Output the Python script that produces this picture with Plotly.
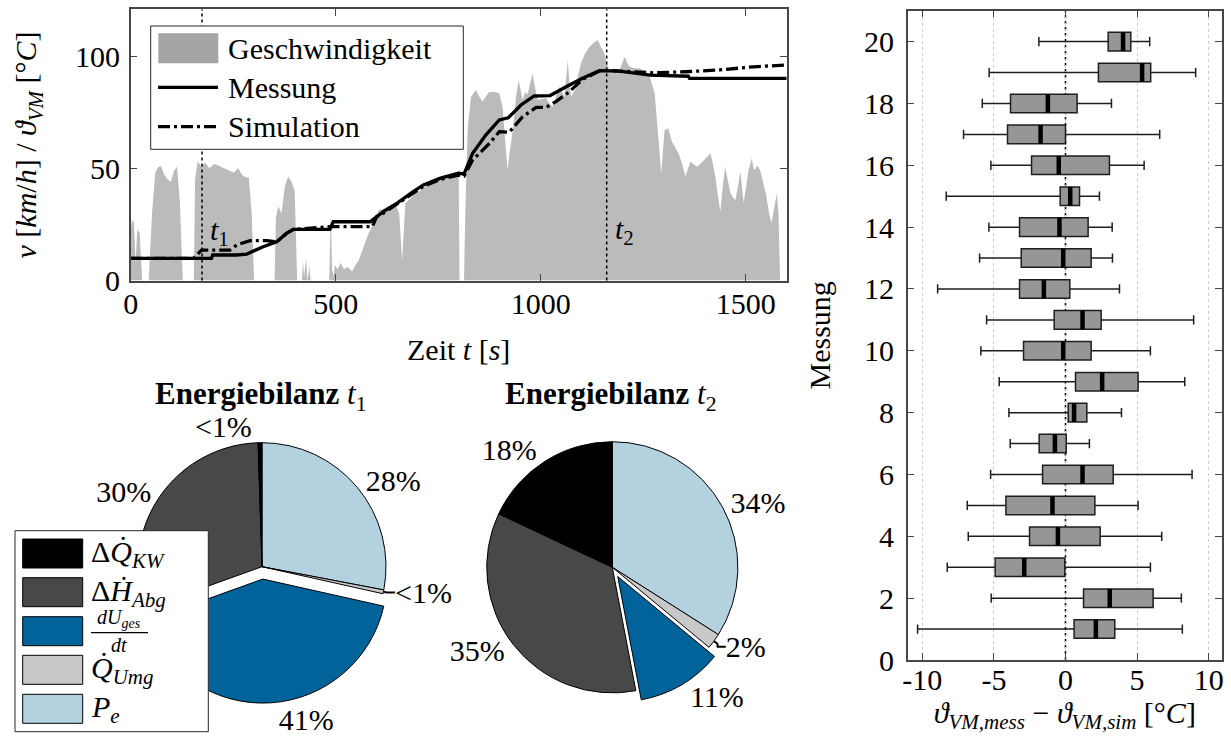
import plotly.graph_objects as go

W, H = 1231, 740
FONT = "Liberation Serif"

# ---------------- drive cycle: vehicle speed (gray area) ----------------
speed_t = [0, 3, 8, 12, 16, 22, 28, 44, 52, 60, 67, 74, 82, 90, 98, 106, 113, 120, 127,
           154, 157, 163, 172, 182, 192, 204, 216, 228, 240, 252, 262, 272, 280, 288, 295, 301,
           351, 354, 360, 368, 376, 384, 392, 400, 403, 406,
           418, 420, 423, 428, 431, 436, 439, 484, 488, 491, 495, 498,
           505, 512, 520, 530, 540, 548, 556, 568, 580, 593, 605, 617, 629, 645, 655, 662, 666, 670,
           682, 694, 706, 718, 740, 759, 775, 792, 800, 802, 813, 816, 822, 830, 842, 850, 858, 866,
           875, 887, 899, 907, 913, 919, 925, 932, 940, 946, 956, 962, 968, 974, 980, 986, 993,
           1003, 1013, 1021, 1029, 1037, 1045, 1052, 1058, 1062, 1066, 1070, 1074, 1080, 1086, 1092, 1098,
           1108, 1119, 1130, 1139, 1147, 1155, 1161, 1167, 1173, 1180, 1186, 1193, 1199, 1205, 1211, 1217,
           1229, 1241, 1254, 1266, 1278, 1286, 1294, 1302, 1311, 1320, 1328, 1336, 1345, 1353,
           1365, 1373, 1381, 1390, 1398, 1406, 1414, 1420, 1426, 1432, 1438, 1444, 1450, 1457, 1463, 1469,
           1475, 1481, 1487, 1495, 1501, 1507, 1515, 1519, 1523, 1527, 1531, 1537, 1543, 1550, 1557, 1563,
           1570, 1576, 1580, 1584, 1600]
speed_v = [22, 27, 26, 8, 23, 21, 0, 0, 30, 48, 50.5, 51, 47, 45, 44, 49, 50.7, 35, 0,
           0, 45, 53, 51, 52.5, 50, 52, 51, 50, 49, 48, 50, 47, 46, 46, 30, 0,
           0, 28, 33, 30, 42, 46.3, 44, 40, 20, 0,
           0, 9, 2, 10, 0, 6, 0, 0, 30, 5, 2, 7,
           5, 8, 5, 6, 4, 7, 9, 15, 21, 26, 31.4, 32, 33, 34.5, 30, 9, 22, 34.5,
           36.5, 38.9, 40, 41.8, 44, 46.3, 47, 47.2, 47, 0, 0, 30, 68, 81.9, 84.9, 82, 79.7, 82,
           84, 84, 83.4, 77.4, 62, 49.2, 58, 67, 82, 89.3, 80.4, 84, 83, 88, 92.3, 86, 80.4,
           81, 81.2, 79, 77.4, 82, 86.3, 84, 82, 90, 98.2, 88, 82, 84, 85.5, 92, 96.7,
           101, 104.1, 106, 107.1, 104, 101.2, 97, 93.8, 92, 94.5, 92, 93.8, 97, 99.7, 97, 95.2,
           94.5, 94.5, 93, 90.8, 83.4, 64, 47.8, 67, 67.8, 61.9, 59, 56.7, 52, 46.3,
           53, 52, 50.7, 52, 53.7, 55, 56.7, 52, 46.3, 38, 30.7, 42, 50.7, 44, 38.9, 37,
           35.9, 42, 48.5, 34.5, 42, 49.2, 54.5, 50, 49.2, 51, 50.7, 48, 43.3, 38, 30, 25.5,
           33, 38.9, 30, 0, 0]

# engine coolant temperature: measurement and simulation
mess_t = [0, 197, 200, 258, 283, 323, 356, 380, 397, 486, 494, 584, 616, 649, 689, 714, 754, 799, 813, 834,
          866, 899, 921, 952, 984, 1023, 1062, 1102, 1143, 1192, 1267, 1360, 1363, 1600]
mess_v = [9.9, 9.9, 11.4, 11.4, 11.8, 15.1, 17.3, 21, 22.8, 22.8, 26.2, 26.2, 30.7, 34.4, 39.6, 42.6, 45.5, 47.8, 47.5, 56.7,
          64.8, 71.5, 72.5, 78.2, 82.2, 82.4, 86.3, 90.1, 93.5, 93.3, 91.5, 91, 90, 90]
sim_t = [0, 153, 173, 242, 260, 291, 332, 356, 380, 397, 486, 589, 600, 616, 649, 689, 714, 754, 799, 813,
         834, 875, 899, 923, 956, 989, 1013, 1037, 1070, 1102, 1143, 1160, 1275, 1356, 1437, 1519, 1600]
sim_v = [9.9, 9.9, 13.6, 13.6, 16, 17.8, 17.8, 17.3, 21, 22.8, 24, 24, 28.5, 30, 34, 39, 42, 45, 47, 46.5,
         53.7, 61.1, 66.3, 66, 73, 77.1, 77.1, 79.7, 84.1, 89.6, 93.3, 93.6, 92.5, 93, 93.8, 95.2, 96]

T1, T2 = 174, 1161

# ---------------- energy balance at t1 / t2 (clockwise from 12 o'clock) ----------------
components = ["P_e", "Q_Umg", "dU_ges/dt", "dH_Abg", "dQ_KW"]
component_colors = ["rgb(180,209,224)", "rgb(200,200,200)", "rgb(0,100,155)", "rgb(72,72,72)", "rgb(0,0,0)"]
share_t1 = [28, 0.5, 41, 30, 0.5]
share_t2 = [34, 2, 11, 35, 18]
pull_t1 = [0, 0, 0.1, 0, 0]
pull_t2 = [0, 0, 0.085, 0, 0]
legend_labels = {
    "dQ_KW": "Δ<i>Q̇</i><sub><i>KW</i></sub>",
    "dH_Abg": "Δ<i>Ḣ</i><sub><i>Abg</i></sub>",
    "dU_ges/dt": None,
    "Q_Umg": "<i>Q̇</i><sub><i>Umg</i></sub>",
    "P_e": "<i>P</i><sub><i>e</i></sub>",
}

# ---------------- temperature deviation per measurement ----------------
messung = list(range(1, 21))
dev_lo = [-10.33, -5.19, -8.26, -6.79, -6.86, -5.23, -3.86, -3.95, -4.63, -5.91,
          -5.51, -8.93, -6.00, -5.35, -8.33, -5.21, -7.12, -5.81, -5.33, -1.86]
dev_q1 = [0.60, 1.26, -4.91, -2.51, -4.16, -1.60, -1.84, 0.19, 0.70, -2.93,
          -0.79, -3.21, -3.09, -3.21, -0.37, -2.37, -4.05, -3.84, 2.30, 2.98]
dev_med = [2.12, 3.09, -2.88, -0.53, -0.91, 1.19, -0.74, 0.60, 2.56, -0.16,
           1.19, -1.51, -0.16, -0.42, 0.33, -0.47, -1.74, -1.23, 5.35, 4.02]
dev_q3 = [3.44, 6.12, -0.05, 2.42, 2.05, 3.33, 0.05, 1.49, 5.07, 1.79,
          2.49, 0.30, 1.79, 1.58, 0.98, 3.07, 0.00, 0.81, 5.95, 4.56]
dev_hi = [8.16, 8.09, 5.93, 6.72, 5.07, 8.84, 1.67, 3.91, 8.33, 5.93,
          8.95, 3.77, 3.28, 3.26, 2.37, 5.49, 6.58, 3.21, 9.09, 5.88]
dev_ticks = [-10, -5, 0, 5, 10]


def px(x):
    return x / W


def py(y):
    return 1 - y / H


AREA_GRAY = "rgb(187,187,187)"
AXIS_COL = "rgb(70,70,70)"
SIM_DASH = "12px,4px,3px,4px"

fig = go.Figure()

# --- top: time series ---
fig.add_trace(go.Scatter(x=speed_t, y=speed_v, mode="lines", fill="tozeroy",
                         line=dict(width=0, color=AREA_GRAY), fillcolor=AREA_GRAY,
                         showlegend=False, hoverinfo="skip"))
fig.add_trace(go.Scatter(x=mess_t, y=mess_v, mode="lines",
                         line=dict(color="black", width=3.3), showlegend=False))
fig.add_trace(go.Scatter(x=sim_t, y=sim_v, mode="lines",
                         line=dict(color="black", width=3.3, dash=SIM_DASH),
                         showlegend=False))

# --- pies ---
def pie_domain(cx, cy, r, pull):
    half = r * (1 + pull)
    return dict(x=[px(cx - half), px(cx + half)], y=[py(cy + half), py(cy - half)])


def pct_text(values):
    return ["<1%" if v < 1 else f"{v:.0f}%" for v in values]


for shares, pulls, dom in [
    (share_t1, pull_t1, pie_domain(262, 566.7, 124, max(pull_t1))),
    (share_t2, pull_t2, pie_domain(612.3, 567.3, 125.6, max(pull_t2))),
]:
    fig.add_trace(go.Pie(
        labels=components, values=shares, text=pct_text(shares), textinfo="text",
        textposition="outside", sort=False, direction="clockwise", rotation=0,
        pull=pulls, domain=dom, automargin=False,
        marker=dict(colors=component_colors, line=dict(color="black", width=1)),
        outsidetextfont=dict(family=FONT, size=30, color="black"),
        showlegend=False, hoverinfo="skip"))

# --- right: box plot of temperature deviation ---
fig.add_trace(go.Box(
    y=messung, q1=dev_q1, median=dev_med, q3=dev_q3, lowerfence=dev_lo, upperfence=dev_hi,
    orientation="h", xaxis="x2", yaxis="y2", width=0.6, whiskerwidth=0.5,
    fillcolor="rgb(150,150,150)", line=dict(color="rgb(30,30,30)", width=1.5),
    boxpoints=False, showlegend=False, hoverinfo="skip"))

med_x, med_y = [], []
for m, pos in zip(dev_med, messung):
    med_x += [m, m, None]
    med_y += [pos - 0.3, pos + 0.3, None]
fig.add_trace(go.Scatter(x=med_x, y=med_y, mode="lines", xaxis="x2", yaxis="y2",
                         line=dict(color="black", width=4.5), showlegend=False, hoverinfo="skip"))

shapes = []
annotations = []

# reference time markers
for t in (T1, T2):
    shapes.append(dict(type="line", xref="x", yref="y domain", x0=t, x1=t, y0=0, y1=1,
                       line=dict(color="black", width=1.5, dash="dot"), layer="above"))
annotations.append(dict(xref="x", yref="y", x=T1, y=21.6, xshift=6, xanchor="left", yanchor="middle",
                        text="<i>t</i><sub>1</sub>", showarrow=False, font=dict(size=30)))
annotations.append(dict(xref="x", yref="y", x=T2, y=22, xshift=6, xanchor="left", yanchor="middle",
                        text="<i>t</i><sub>2</sub>", showarrow=False, font=dict(size=30)))

# zero line of the deviation plot
shapes.append(dict(type="line", xref="x2", yref="y2 domain", x0=0, x1=0, y0=0, y1=1,
                   line=dict(color="black", width=1.5, dash="dot"), layer="below"))


def rect(x0, y0, x1, y1, fill, line_color="black", lw=1):
    return dict(type="rect", xref="paper", yref="paper", x0=px(x0), x1=px(x1), y0=py(y1), y1=py(y0),
                fillcolor=fill, line=dict(color=line_color, width=lw), layer="above")


def hline(x0, x1, y, width=3, dash="solid"):
    return dict(type="line", xref="paper", yref="paper", x0=px(x0), x1=px(x1), y0=py(y), y1=py(y),
                line=dict(color="black", width=width, dash=dash), layer="above")


def label(x, y, text, size=30, xanchor="left", yanchor="middle"):
    return dict(xref="paper", yref="paper", x=px(x), y=py(y), text=text, showarrow=False,
                xanchor=xanchor, yanchor=yanchor, font=dict(size=size))


# legend of the time series
shapes.append(rect(150.7, 26, 463.3, 149.3, "white", "rgb(40,40,40)", 1))
shapes.append(rect(158.3, 33.3, 218.3, 63.3, "rgb(165,165,165)", "rgba(0,0,0,0)", 0))
shapes.append(hline(158, 218, 87.3, 3.3))
shapes.append(hline(158, 218, 126.7, 3.3, SIM_DASH))
annotations.append(label(226, 48, "Geschwindigkeit"))
annotations.append(label(226, 87, "Messung"))
annotations.append(label(226, 126, "Simulation"))

# legend of the energy balance
shapes.append(rect(15, 530.7, 208.3, 731.7, "white", "rgb(40,40,40)", 1))
row_tops = [539, 577.7, 616.7, 655.3, 694.3]
for top, name, color in zip(row_tops, components[::-1], component_colors[::-1]):
    shapes.append(rect(22.7, top, 82.7, top + 29, color, "black", 1))
    if legend_labels[name] is not None:
        annotations.append(label(89, top + 15, legend_labels[name], size=30))
    else:
        cx = 119
        shapes.append(hline(91, 148, top + 16, 1.2))
        annotations.append(label(cx, top + 16.5, "<i>dU</i><sub><i>ges</i></sub>", size=20,
                                 xanchor="center", yanchor="bottom"))
        annotations.append(label(cx, top + 15.5, "<i>dt</i>", size=20, xanchor="center", yanchor="top"))

# pie titles
annotations.append(label(261, 396, "<b>Energiebilanz</b> <i>t</i><sub>1</sub>", size=31, xanchor="center"))
annotations.append(label(611, 396, "<b>Energiebilanz</b> <i>t</i><sub>2</sub>", size=31, xanchor="center"))

axis_common = dict(showline=True, linecolor=AXIS_COL, linewidth=1.5, mirror="ticks",
                   ticks="inside", ticklen=7, tickwidth=1.2, tickcolor=AXIS_COL,
                   zeroline=False, tickfont=dict(size=30), automargin=False)

fig.update_layout(
    width=W, height=H, autosize=False,
    margin=dict(l=0, r=0, t=0, b=0, pad=0, autoexpand=False),
    paper_bgcolor="white", plot_bgcolor="white",
    font=dict(family=FONT, size=30, color="black"),
    showlegend=False,
    xaxis=dict(domain=[px(130.7), px(786.7)], range=[0, 1600], tickvals=[0, 500, 1000, 1500],
               showgrid=False, anchor="y", ticklabelstandoff=-4,
               title=dict(text="Zeit <i>t</i> [<i>s</i>]", standoff=20, font=dict(size=30)),
               **axis_common),
    yaxis=dict(domain=[py(280.6), py(9.3)], range=[0, 120.8], tickvals=[0, 50, 100],
               showgrid=False, anchor="x", ticklabelstandoff=3,
               title=dict(text="<i>v</i> [<i>km</i>/<i>h</i>] / <i>ϑ</i><sub><i>VM</i></sub> [°<i>C</i>]",
                          standoff=29, font=dict(size=30)),
               **axis_common),
    xaxis2=dict(domain=[px(907.7), px(1222)], range=[-11.02, 10.93], tickvals=dev_ticks,
                ticktext=[str(v) for v in dev_ticks], anchor="y2",
                showgrid=True, gridcolor="rgb(205,205,205)", griddash="dot", gridwidth=1,
                ticklabelstandoff=-8,
                title=dict(text="<i>ϑ</i><sub><i>VM,mess</i></sub> − <i>ϑ</i><sub><i>VM,sim</i></sub> [°<i>C</i>]",
                           standoff=5, font=dict(size=30)),
                **axis_common),
    yaxis2=dict(domain=[py(660), py(10.7)], range=[0, 21.0], tickvals=list(range(0, 21, 2)),
                anchor="x2", showgrid=False, ticklabelstandoff=6,
                title=dict(text="Messung", standoff=24, font=dict(size=30)),
                **axis_common),
    shapes=shapes,
    annotations=annotations,
)

fig.write_html("out.html")
